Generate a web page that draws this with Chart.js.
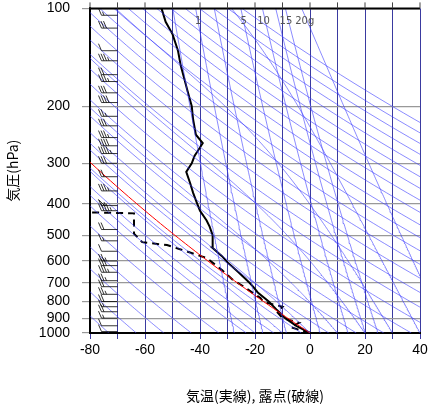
<!DOCTYPE html><html><head><meta charset="utf-8">
<script src="https://cdn.jsdelivr.net/npm/chart.js@4/dist/chart.umd.min.js"></script>
<style>html,body{margin:0;background:#fff;overflow:hidden;height:408px}#w{width:431px;height:420px;margin-top:-12px}</style></head><body><div id="w"><canvas id="c"></canvas></div>
<script>
const presTicks=[100,200,300,400,500,600,700,800,900,1000];
const tempTicks=[-80,-60,-40,-20,0,20,40];
const tempP=[1000,950,900,850,800,750,720,700,650,606,580,545,520,500,470,450,420,400,370,345,319,300,285,274,260,245,220,200,180,150,135,120,110,100];
const tempT=[0,-5,-9,-12,-15,-19,-20.7,-22,-26,-30,-32,-35.6,-35.5,-35.3,-36.5,-37.6,-40,-41,-42.5,-43.6,-45,-43,-42,-40.7,-39,-41.5,-42.5,-43,-44.5,-47,-48,-50,-52.5,-54];
const dewP=[1000,980,960,930,900,860,830,802,780,754,720,687,640,588,560,536,525,494,460,428,425];
const dewT=[0,-3.6,-7,-4,-10,-12,-10,-17,-18,-20.7,-24,-28,-32,-37.5,-45,-52,-61,-64,-64,-64,-79.5];
const mixRatios=[0.4,1,2,5,10,15,20];
const mixLabels=['','1','','5','10','15','20g'];
const windP=[105,115,135,145,160,168,182,195,215,230,250,265,280,300,330,365,405,420,480,520,560,600,620,650,690,720,760,800,830,860,900,950,990];
const windSpd=[15,30,10,35,20,35,30,40,25,30,35,40,45,30,20,35,55,45,20,15,10,25,30,35,25,20,25,20,15,20,15,10,10];
const surfT=0;

const thetas=[];for(let t=180;t<=480;t+=10)thetas.push(t);
const moistT0=[-20,-10,0,10,20,30,40,50];
function pLevels(){const a=[];for(let p=1000;p>=100;p-=10)a.push(p);return a;}
function dry(th){return pLevels().map(p=>({x:th*Math.pow(p/1000,0.286)-273.15,y:p}));}
function es(T){return 6.112*Math.exp(17.67*T/(T+243.5));}
function moist(T0){const pts=[];let T=T0+273.15;for(let p=1000;p>=100;p-=5){pts.push({x:T-273.15,y:p});const rs=0.622*es(T-273.15)/(p-es(T-273.15));const L=2.5e6,Rd=287,cp=1004;const dTdp=(Rd*T+L*rs)/(p*(cp+L*L*rs*0.622/(Rd*T*T)));T-=dTdp*5;}return pts;}
function mix(w){return pLevels().map(p=>{const e=w*p/(622+w);const l=Math.log(e/6.112);return{x:243.5*l/(17.67-l),y:p};});}
const ds=[];
thetas.forEach(t=>ds.push({data:dry(t),borderColor:'rgba(60,60,255,0.75)',borderWidth:0.8}));
moistT0.forEach(t=>ds.push({data:moist(t),borderColor:'rgba(60,60,255,0.75)',borderWidth:0.8}));
mixRatios.forEach(w=>ds.push({data:mix(w),borderColor:'rgba(60,60,255,0.75)',borderWidth:0.8}));
ds.push({data:dry(surfT+273.15),borderColor:'#ff0000',borderWidth:1});
ds.push({data:dewP.map((p,i)=>({x:dewT[i],y:p})),borderColor:'#000',borderWidth:2,borderDash:[7,5]});
ds.push({data:tempP.map((p,i)=>({x:tempT[i],y:p})),borderColor:'#000',borderWidth:2});
ds.forEach(d=>{d.showLine=true;d.pointRadius=0;d.fill=false;d.tension=0;});
const labOff=[0,0,0,0,-2,7,16];
const extra={id:'extra',afterDatasetsDraw(ch){const c=ch.ctx,xs=ch.scales.x,ys=ch.scales.y,a=ch.chartArea;
 c.save();c.beginPath();c.rect(a.left,a.top,a.right-a.left,a.bottom-a.top);c.clip();
 c.fillStyle='#555';c.font='10px "DejaVu Sans"';c.textAlign='center';
 mixRatios.forEach((w,i)=>{if(!mixLabels[i])return;const e=w*110/(622+w);const l=Math.log(e/6.112);const T=243.5*l/(17.67-l);c.fillText(mixLabels[i],xs.getPixelForValue(T)+labOff[i],ys.getPixelForValue(112));});
 c.strokeStyle='#000';c.lineWidth=0.8;
 windP.forEach((p,i)=>{const y=ys.getPixelForValue(p),x1=xs.getPixelForValue(-70),x0=x1-16;c.beginPath();c.moveTo(x1,y);c.lineTo(x0,y);let s=windSpd[i],x=x0;
  while(s>=50){c.moveTo(x,y);c.lineTo(x-3,y-6);c.lineTo(x+3,y);x+=4;s-=50;}
  while(s>=10){c.moveTo(x,y);c.lineTo(x-3,y-7);x+=2.5;s-=10;}
  if(s>=5){c.moveTo(x,y);c.lineTo(x-1.5,y-3.5);}c.stroke();});
 c.restore();
 c.strokeStyle='#000';c.lineWidth=2;c.beginPath();c.moveTo(a.left,a.top);c.lineTo(a.right,a.top);c.stroke();
 c.lineWidth=1;c.strokeStyle='#444';c.beginPath();for(let t=-80;t<=40;t+=10){const x=xs.getPixelForValue(t);c.moveTo(x,a.top);c.lineTo(x,a.top-6);}c.stroke();
}};
new Chart(document.getElementById('c'),{type:'scatter',data:{datasets:ds},plugins:[extra],options:{animation:false,responsive:true,maintainAspectRatio:false,
 layout:{padding:{top:0,right:11,left:0,bottom:0}},
 plugins:{legend:{display:false},tooltip:{enabled:false}},
 scales:{
 x:{type:'linear',min:-80,max:40,afterFit(s){s.height=75;},afterBuildTicks(s){s.ticks=[];for(let t=-80;t<=40;t+=10)s.ticks.push({value:t});},
  ticks:{color:'#000',font:{size:14,family:'"Liberation Sans"'},callback:v=>v%20==0?v:''},
  grid:{color:'#3a3aa0',lineWidth:1,tickLength:6},border:{color:'#000',width:2},
  title:{display:true,text:'気温(実線), 露点(破線)',color:'#000',font:{size:14,family:'"Noto Sans CJK JP"'},padding:{top:10}}},
 y:{type:'logarithmic',min:100,max:1000,reverse:true,afterFit(s){s.width=90;},afterBuildTicks(s){s.ticks=presTicks.map(v=>({value:v}));},
  ticks:{color:'#000',font:{size:14,family:'"Liberation Sans"'},callback:v=>v,autoSkip:false,padding:12},
  grid:{color:'#999',lineWidth:1.2,tickLength:8},border:{color:'#000',width:2},
  title:{display:true,text:'気圧(hPa)',color:'#000',font:{size:14,family:'"Noto Sans CJK JP"'},padding:{bottom:2}}}}}});
</script></body></html>
